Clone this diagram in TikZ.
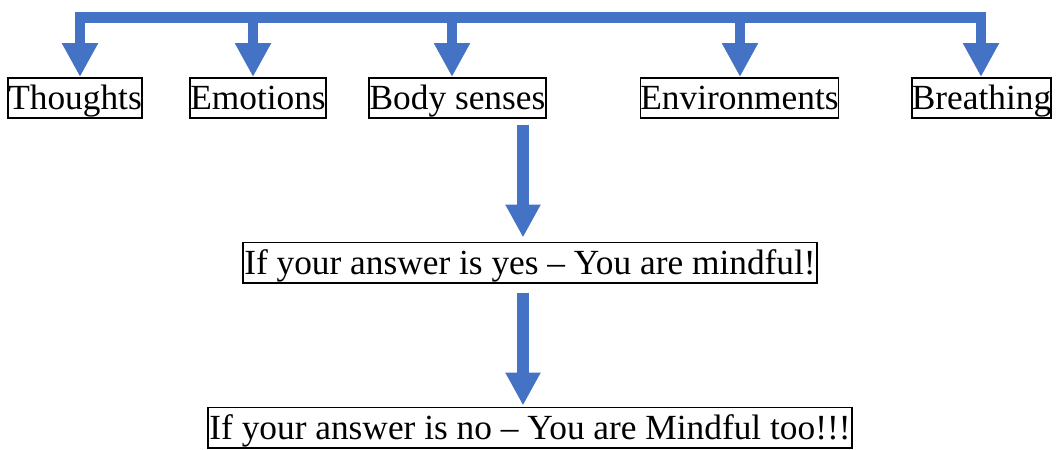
\documentclass[tikz,border=0pt]{standalone}
\usepackage{fontspec}
\setmainfont{Liberation Serif}
\usetikzlibrary{arrows.meta}
\definecolor{arrowblue}{HTML}{4472C4}
\begin{document}
\begin{tikzpicture}[x=0.75pt,y=-0.75pt,
  box/.style={draw=black,line width=1.2pt,inner xsep=0pt,inner ysep=0pt,
    text height=24pt,text depth=6.3pt,font=\fontsize{26.5}{30}\selectfont},
  toparrow/.style={draw=arrowblue,line width=7.9pt,
    -{Triangle[width=25.5pt,length=25.5pt]}},
  bigarrow/.style={draw=arrowblue,line width=9pt,
    -{Triangle[width=24.75pt,length=24.75pt]}},
  bar/.style={draw=arrowblue,line width=8.25pt}]
\useasboundingbox (0,0) rectangle (1058,450);

\node[box,minimum width=100.5pt] (T) at (75,98) {Thoughts};
\node[box,minimum width=102pt] (E) at (258,98) {Emotions};
\node[box,minimum width=132.75pt] (B) at (457.5,98) {Body senses};
\node[box,minimum width=147.75pt] (V) at (739.5,98) {Environments};
\node[box,minimum width=104.25pt] (R) at (981.5,98) {Breathing};
\node[box,minimum width=430.5pt] (M) at (530,262.5) {If your answer is yes – You are mindful!};
\node[box,minimum width=483pt] (N) at (530,427.5) {If your answer is no – You are Mindful too!!!};

\coordinate (barL) at (75,17.5);
\coordinate (barR) at (986,17.5);
\draw[bar] (barL) -- (barR);

\coordinate (sT) at (80,12.5);
\coordinate (sE) at (253,12.5);
\coordinate (sB) at (452,12.5);
\coordinate (sV) at (740,12.5);
\coordinate (sR) at (981,12.5);
\draw[toparrow] (sT) -- (sT |- T.north);
\draw[toparrow] (sE) -- (sE |- E.north);
\draw[toparrow] (sB) -- (sB |- B.north);
\draw[toparrow] (sV) -- (sV |- V.north);
\draw[toparrow] (sR) -- (sR |- R.north);

\draw[bigarrow] ([xshift=-5.25pt,yshift=-4.5pt]B.south -| M.north) -- ([xshift=-5.25pt,yshift=3pt]M.north);
\draw[bigarrow] ([xshift=-5.25pt,yshift=-6.75pt]M.south) -- ([xshift=-5.25pt,yshift=0.75pt]N.north);
\end{tikzpicture}
\end{document}
